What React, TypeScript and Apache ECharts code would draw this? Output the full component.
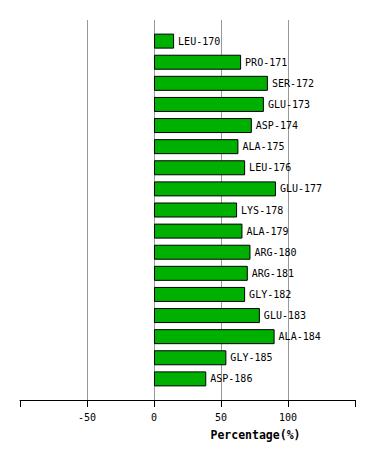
import React, { useEffect, useRef } from "react";
import * as echarts from "echarts";

const residues = [
  "LEU-170", "PRO-171", "SER-172", "GLU-173", "ASP-174", "ALA-175", "LEU-176",
  "GLU-177", "LYS-178", "ALA-179", "ARG-180", "ARG-181", "GLY-182", "GLU-183",
  "ALA-184", "GLY-185", "ASP-186",
];
const percentages = [15, 65, 85, 82, 73, 63, 68, 91, 62, 66, 72, 70, 68, 79, 90, 54, 39];
const xTicks = [-50, 0, 50, 100];
const axisTitle = "Percentage(%)";

export default function App() {
  const ref = useRef<HTMLDivElement>(null);
  useEffect(() => {
    if (!ref.current) return;
    const chart = echarts.init(ref.current, null, { renderer: "svg" });
    const cats = ["", ...residues, ""];
    const vals: any[] = ["-", ...percentages, "-"];
    const mono = "DejaVu Sans Mono";
    chart.setOption({
      animation: false,
      backgroundColor: "#ffffff",
      grid: { left: 20, right: 19, top: 20, bottom: 60, containLabel: false },
      xAxis: {
        type: "value",
        min: -100,
        max: 150,
        interval: 50,
        axisLine: { show: true, lineStyle: { color: "#000000", width: 1 } },
        axisTick: {
          show: true,
          length: 7,
          lineStyle: { color: "#000000" },
        },
        axisLabel: {
          margin: 12,
          color: "#000000",
          fontFamily: mono,
          fontSize: 10,
          formatter: (v: number) => (xTicks.indexOf(v) >= 0 ? String(v) : ""),
        },
        splitLine: {
          show: true,
          showMinLine: false,
          showMaxLine: false,
          lineStyle: { color: "#999999", width: 1 },
        },
        name: axisTitle,
        nameLocation: "middle",
        nameGap: 29,
        nameTextStyle: {
          fontFamily: mono,
          fontSize: 11.5,
          fontWeight: "bold",
          color: "#000000",
          padding: [0, 0, 0, 136],
        },
      },
      yAxis: {
        type: "category",
        data: cats,
        inverse: true,
        boundaryGap: false,
        axisLine: { show: false },
        axisTick: { show: false },
        axisLabel: { show: false },
        splitLine: { show: false },
      },
      series: [
        {
          type: "bar",
          data: vals,
          barWidth: 15,
          itemStyle: { color: "#00b000", borderColor: "#000000", borderWidth: 1 },
          label: {
            show: true,
            position: "right",
            distance: 4,
            formatter: "{b}",
            color: "#000000",
            fontFamily: mono,
            fontSize: 10,
          },
        },
      ],
    });
    return () => chart.dispose();
  }, []);
  return (
    <div
      ref={ref}
      style={{ position: "fixed", left: 0, top: 0, width: 374, height: 460, background: "#fff" }}
    />
  );
}
